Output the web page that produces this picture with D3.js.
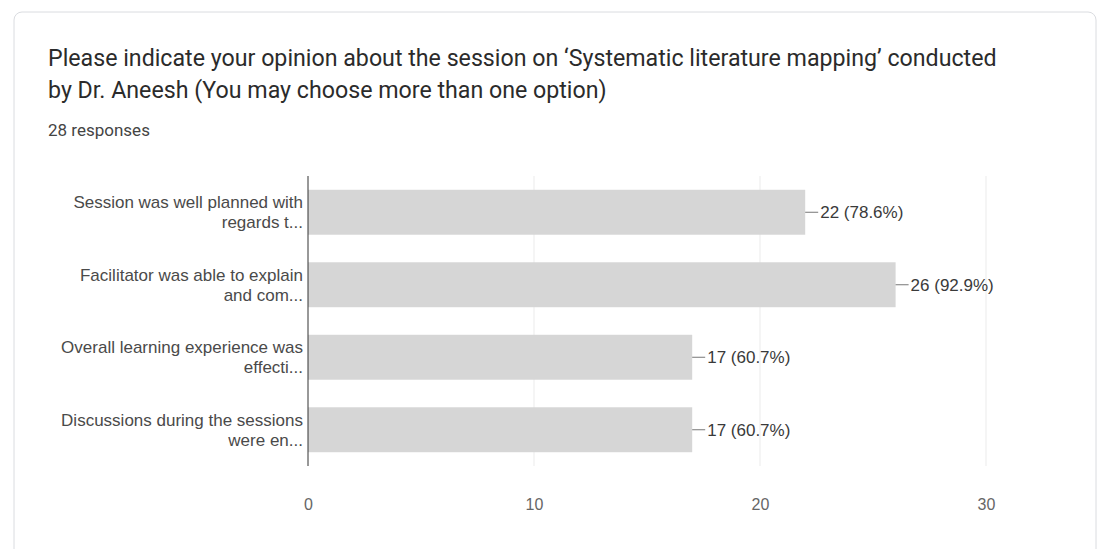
<!DOCTYPE html>
<html>
<head>
<meta charset="utf-8">
<script src="https://cdn.jsdelivr.net/npm/d3@7"></script>
<style>
  body { margin: 0; background: #fff; }
</style>
</head>
<body>
<div id="chart"></div>
<script>
// survey answers (multi-choice), 28 respondents
var titleLines = [
  "Please indicate your opinion about the session on \u2018Systematic literature mapping\u2019 conducted",
  "by Dr. Aneesh (You may choose more than one option)"
];
var subtitle = "28 responses";
var categories = [
  ["Session was well planned with", "regards t..."],
  ["Facilitator was able to explain", "and com..."],
  ["Overall learning experience was", "effecti..."],
  ["Discussions during the sessions", "were en..."]
];
var counts = [22, 26, 17, 17];
var percents = ["78.6%", "92.9%", "60.7%", "60.7%"];
var xTicks = [0, 10, 20, 30];

var width = 1102, height = 549;
var plot = {left: 308, right: 986, top: 176, bottom: 466};
var labelFont = "Liberation Sans, Arial, sans-serif";

var svg = d3.select("#chart").append("svg")
            .attr("width", width)
            .attr("height", height);

// card outline
svg.append("rect")
   .attr("x", 14).attr("y", 12)
   .attr("width", 1082).attr("height", 560)
   .attr("rx", 8)
   .attr("fill", "#fff")
   .attr("stroke", "#dadce0")
   .attr("stroke-width", 1);

// title
titleLines.forEach(function(t, i){
  svg.append("text")
     .attr("x", 48)
     .attr("y", 66 + i * 32)
     .attr("font-family", "Roboto, sans-serif")
     .attr("font-size", "23.2px")
     .attr("fill", "#2b2b2b")
     .text(t);
});
svg.append("text")
   .attr("x", 48)
   .attr("y", 136)
   .attr("font-family", "Roboto, sans-serif")
   .attr("font-size", "17px")
   .attr("fill", "#444")
   .text(subtitle);

var xScale = d3.scaleLinear()
               .domain([0, 30])
               .range([plot.left, plot.right]);
var yScale = d3.scaleBand()
               .domain(d3.range(categories.length))
               .range([plot.top, plot.bottom])
               .paddingInner(0.38)
               .paddingOuter(0.19);

// gridlines
svg.append("g")
   .selectAll("line")
   .data(xTicks.slice(1))
   .join("line")
   .attr("x1", function(d){ return xScale(d); })
   .attr("x2", function(d){ return xScale(d); })
   .attr("y1", plot.top)
   .attr("y2", plot.bottom)
   .attr("stroke", "#ebebeb")
   .attr("stroke-width", 1);

// bars
svg.append("g")
   .selectAll("rect")
   .data(counts)
   .join("rect")
   .attr("x", xScale(0))
   .attr("y", function(d, i){ return yScale(i); })
   .attr("width", function(d){ return xScale(d) - xScale(0); })
   .attr("height", yScale.bandwidth())
   .attr("fill", "#d6d6d6");

// value labels with small leader line
var valG = svg.append("g");
counts.forEach(function(d, i){
  var cy = yScale(i) + yScale.bandwidth() / 2;
  valG.append("line")
      .attr("x1", xScale(d)).attr("x2", xScale(d) + 13)
      .attr("y1", cy).attr("y2", cy)
      .attr("stroke", "#777").attr("stroke-width", 1);
  valG.append("text")
      .attr("x", xScale(d) + 15)
      .attr("y", cy)
      .attr("dy", "0.35em")
      .attr("font-family", labelFont)
      .attr("font-size", "17px")
      .attr("fill", "#3a3a3a")
      .text(d + " (" + percents[i] + ")");
});

// category labels (two lines, right aligned)
var catG = svg.append("g");
categories.forEach(function(lines, i){
  var cy = yScale(i) + yScale.bandwidth() / 2;
  var txt = catG.append("text")
                .attr("x", plot.left - 5)
                .attr("y", cy - 10)
                .attr("text-anchor", "end")
                .attr("font-family", labelFont)
                .attr("font-size", "17px")
                .attr("fill", "#4a4a4a");
  lines.forEach(function(l, j){
    txt.append("tspan")
       .attr("x", plot.left - 5)
       .attr("dy", j == 0 ? "0.35em" : "20px")
       .text(l);
  });
});

// x axis labels
var xAxis = d3.axisBottom(xScale)
              .tickValues(xTicks)
              .tickSize(0)
              .tickPadding(33);
var xAxisG = svg.append("g")
                .attr("transform", "translate(0," + plot.bottom + ")")
                .call(xAxis);
xAxisG.select(".domain").remove();
xAxisG.selectAll("text")
      .attr("font-family", labelFont)
      .attr("font-size", "16px")
      .attr("fill", "#666");

// baseline
svg.append("line")
   .attr("x1", xScale(0)).attr("x2", xScale(0))
   .attr("y1", plot.top).attr("y2", plot.bottom)
   .attr("stroke", "#333").attr("stroke-width", 1);
</script>
</body>
</html>
